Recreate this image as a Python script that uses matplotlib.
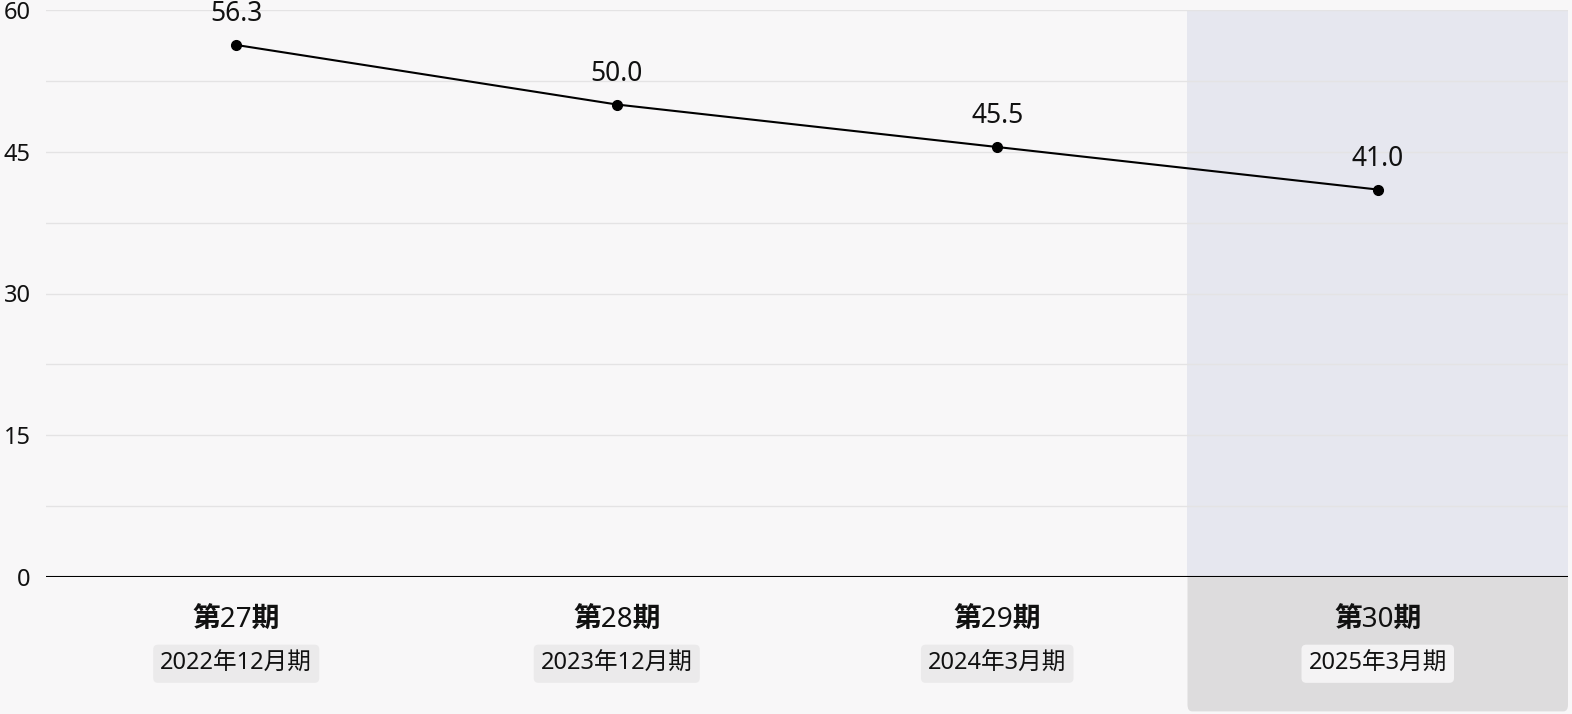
import numpy as np
import matplotlib.pyplot as plt
from matplotlib.patches import FancyBboxPatch
from matplotlib.transforms import blended_transform_factory

plt.rcParams['font.family'] = ['Noto Sans', 'Noto Sans CJK JP', 'DejaVu Sans']

# データ
periods = ['第27期', '第28期', '第29期', '第30期']
fiscal = ['2022年12月期', '2023年12月期', '2024年3月期', '2025年3月期']
values = [56.3, 50.0, 45.5, 41.0]
y_ticks = [0, 15, 30, 45, 60]

fig = plt.figure(figsize=(15.72, 7.14), dpi=100)
fig.patch.set_facecolor('#f8f7f8')
ax = fig.add_axes([46 / 1572, 1 - 577 / 714, 1522 / 1572, 567 / 714])
ax.set_facecolor('#f8f7f8')

x = np.arange(len(values))
ax.set_xlim(-0.5, len(values) - 0.5)
ax.set_ylim(0, 60)

# 最新期のハイライト
ax.axvspan(x[-1] - 0.5, x[-1] + 0.5, color='#e6e7ef', zorder=0.5, lw=0)
box = FancyBboxPatch((x[-1] - 0.5, -0.237), 1.0, 0.28,
                     boxstyle='round,pad=0,rounding_size=0.012',
                     transform=blended_transform_factory(ax.transData, ax.transAxes),
                     fc='#dddcdd', ec='none', clip_on=False, zorder=0.2)
ax.add_patch(box)

# グリッド
for y in np.arange(7.5, 60.1, 7.5):
    ax.axhline(y, color='#e4e3e4', lw=1, zorder=1)
ax.axhline(0, color='black', lw=1.5, zorder=3)

ax.plot(x, values, color='black', lw=1.5, marker='o', markersize=7, zorder=4)
for xi, v in zip(x, values):
    ax.annotate(f'{v:.1f}', (xi, v), xytext=(0, 22), textcoords='offset points',
                ha='center', va='center', fontsize=19, color='#111111')

tr = blended_transform_factory(ax.transData, ax.transAxes)
for i, (p, f) in enumerate(zip(periods, fiscal)):
    last = i == len(periods) - 1
    ax.text(x[i], -0.078, p, transform=tr, ha='center', va='center',
            fontsize=20, fontweight='bold', color='#111111')
    ax.text(x[i], -0.153, f, transform=tr, ha='center', va='center',
            fontsize=17, color='#111111',
            bbox=dict(boxstyle='round,pad=0.3,rounding_size=0.2',
                      fc='#f4f3f4' if last else '#ebeaeb', ec='none'))

ax.set_xticks([])
ax.set_yticks(y_ticks)
ax.tick_params(axis='y', length=0, pad=11, labelsize=17, labelcolor='#111111')
for s in ax.spines.values():
    s.set_visible(False)

fig.savefig('out.png', dpi=100, facecolor=fig.get_facecolor())
